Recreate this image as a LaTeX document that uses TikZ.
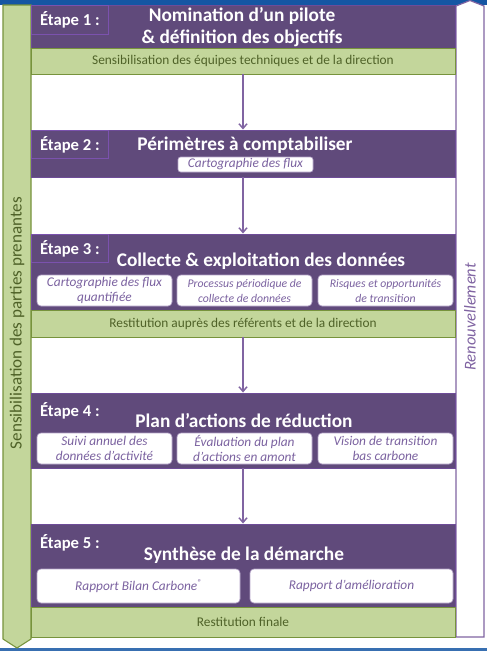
\documentclass[tikz,border=0pt]{standalone}
\usepackage{fontspec}
\setmainfont{Carlito}
\usetikzlibrary{arrows.meta}
\definecolor{stepPurple}{HTML}{604A7B}
\definecolor{stepEdge}{HTML}{6E4C98}
\definecolor{labelEdge}{HTML}{7B52AE}
\definecolor{bandGreen}{HTML}{C3D69B}
\definecolor{bandEdge}{HTML}{77933C}
\definecolor{bandText}{HTML}{4F6228}
\definecolor{arrowPurple}{HTML}{8064A2}
\definecolor{boxText}{HTML}{7B62A0}
\definecolor{boxEdge}{HTML}{B3A2C7}
\definecolor{topBlue}{HTML}{1556A3}
\tikzset{
  stepbox/.style={fill=stepPurple, draw=stepEdge, line width=0.7pt, minimum width=318pt, inner sep=0pt},
  bandbox/.style={fill=bandGreen, draw=bandEdge, line width=0.7pt, minimum width=318pt, inner sep=0pt,
    text=bandText, font=\fontsize{10}{12}\selectfont},
  labelbox/.style={draw=labelEdge, line width=0.5pt, minimum width=57.75pt, minimum height=21pt, inner sep=0pt,
    anchor=north west, text=white, font=\fontsize{12.5}{14}\selectfont\bfseries},
  titletext/.style={text=white, font=\fontsize{14.5}{16.5}\selectfont\bfseries, align=center, inner sep=0pt},
  subbox/.style={fill=white, draw=boxEdge, line width=0.5pt, rounded corners=3pt, inner sep=0pt,
    minimum width=101.25pt, minimum height=23.25pt, text=boxText, align=center,
    font=\fontsize{10}{11.25}\selectfont\itshape},
  smalltext/.style={font=\fontsize{8.8}{11.25}\selectfont\itshape},
  flow/.style={draw=arrowPurple, line width=1.1pt, -{Straight Barb[length=3.5pt,width=6pt]}},
  sidetext/.style={rotate=90, inner sep=0pt, font=\fontsize{12.8}{14}\selectfont}
}
\begin{document}
\begin{tikzpicture}[x=0.75pt,y=-0.75pt]
\useasboundingbox (0,0) rectangle (487,651);
\fill[white] (0,0) rectangle (487,651);
% blue bands
\fill[topBlue] (0,0) rectangle (487,4.5);
\fill[topBlue!85] (0,647.5) rectangle (487,651);
% left green arrow
\draw[fill=bandGreen, draw=bandEdge, line width=0.8pt] (3,5) -- (31,5) -- (31,639) -- (17,648) -- (3,639) -- cycle;
\node[sidetext, text=bandText] (lefttxt) at (17,323) {Sensibilisation des parties prenantes};
% right renewal arrow
\draw[fill=white, draw=arrowPurple, line width=0.9pt] (456,637) -- (456,6) -- (470,0.5) -- (484,6) -- (484,637) -- cycle;
\node[sidetext, text=arrowPurple, font=\fontsize{12.4}{14}\selectfont\itshape] (righttxt) at (470,317) {Renouvellement};

% Step 1
\node[stepbox, minimum height=32.25pt] (s1) at (243,26.5) {};
\node[labelbox, minimum height=21.75pt] (l1) at (31,5) {Étape 1 :};
\node[titletext] (t1) at (242,27) {Nomination d’un pilote\\\& définition des objectifs};
\node[bandbox, minimum height=19.5pt] (g1) at (243,61) {Sensibilisation des équipes techniques et de la direction};

% Step 2
\node[stepbox, minimum height=35.25pt] (s2) at (243,153.5) {};
\node[labelbox] (l2) at (31,130) {Étape 2 :};
\node[titletext] (t2) at (245,145) {Périmètres à comptabiliser};
\node[subbox, minimum height=11.25pt, rounded corners=2pt] (b2) at (245.5,164.5) {Cartographie des flux};

% Step 3
\node[stepbox, minimum height=57pt] (s3) at (243,272) {};
\node[labelbox] (l3) at (31,234) {Étape 3 :};
\node[titletext] (t3) at (261,261) {Collecte \& exploitation des données};
\node[subbox] (b31) at (104.5,290.5) {Cartographie des flux\\quantifiée};
\node[subbox, smalltext] (b32) at (244.5,290.5) {Processus périodique de\\collecte de données};
\node[subbox, smalltext] (b33) at (385.5,290.5) {Risques et opportunités\\de transition};
\node[bandbox, minimum height=20.25pt] (g3) at (243,323.5) {Restitution auprès des référents et de la direction};

% Step 4
\node[stepbox, minimum height=56.25pt] (s4) at (243,430.5) {};
\node[labelbox, draw=none] (l4) at (31,396) {Étape 4 :};
\node[titletext] (t4) at (244,421) {Plan d’actions de réduction};
\node[subbox] (b41) at (104.5,448.5) {Suivi annuel des\\données d’activité};
\node[subbox] (b42) at (244.5,448.5) {Évaluation du plan\\d’actions en amont};
\node[subbox] (b43) at (385.5,448.5) {Vision de transition\\bas carbone};

% Step 5
\node[stepbox, minimum height=62.25pt] (s5) at (243,565.5) {};
\node[labelbox, draw=none] (l5) at (31,528) {Étape 5 :};
\node[titletext] (t5) at (244,555) {Synthèse de la démarche};
\node[subbox, minimum width=152.25pt, minimum height=25.5pt] (b51) at (138.5,586) {Rapport Bilan Carbone\raisebox{0.35em}{\fontsize{6.5}{7}\selectfont ®}};
\node[subbox, minimum width=152.25pt, minimum height=25.5pt] (b52) at (351.5,586) {Rapport d’amélioration};
\node[bandbox, minimum height=22.5pt] (g5) at (243,622) {Restitution finale};

% connectors
\draw[flow] (g1.south) -- (s2.north);
\draw[flow] (s2.south) -- (s3.north);
\draw[flow] (g3.south) -- (s4.north);
\draw[flow] (s4.south) -- (s5.north);
\end{tikzpicture}
\end{document}
